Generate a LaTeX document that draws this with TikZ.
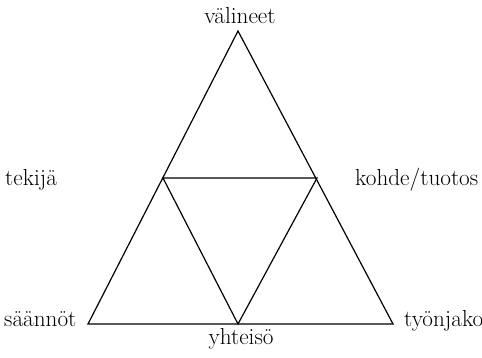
\documentclass[tikz,border=0pt]{standalone}
\usepackage{fontspec}
\begin{document}
\begin{tikzpicture}[x=1pt,y=-1pt,
  lbl/.style={inner sep=0pt,anchor=base,font=\fontsize{23.2}{27}\selectfont},
  edge/.style={line width=1.2pt,line join=miter}]
\useasboundingbox (0,0) rectangle (482,357);
\coordinate (T) at (238,31);
\coordinate (L) at (88,324);
\coordinate (R) at (393,324);
\coordinate (ML) at (163,178);
\coordinate (MR) at (317,178);
\coordinate (MB) at (238,324);
\draw[edge] (T) -- (L) -- (R) -- cycle;
\draw[edge] (ML) -- (MR) -- (MB) -- cycle;
\node[lbl] (val) at (240,23) {välineet};
\node[lbl,anchor=base west] (tek) at (5,185) {tekijä};
\node[lbl,anchor=base west] (koh) at (355,185) {kohde/tuotos};
\node[lbl,anchor=base west] (saa) at (4,326) {säännöt};
\node[lbl,anchor=base west] (tyo) at (404,326) {työnjako};
\node[lbl] (yht) at (241,344) {yhteisö};
\end{tikzpicture}
\end{document}
